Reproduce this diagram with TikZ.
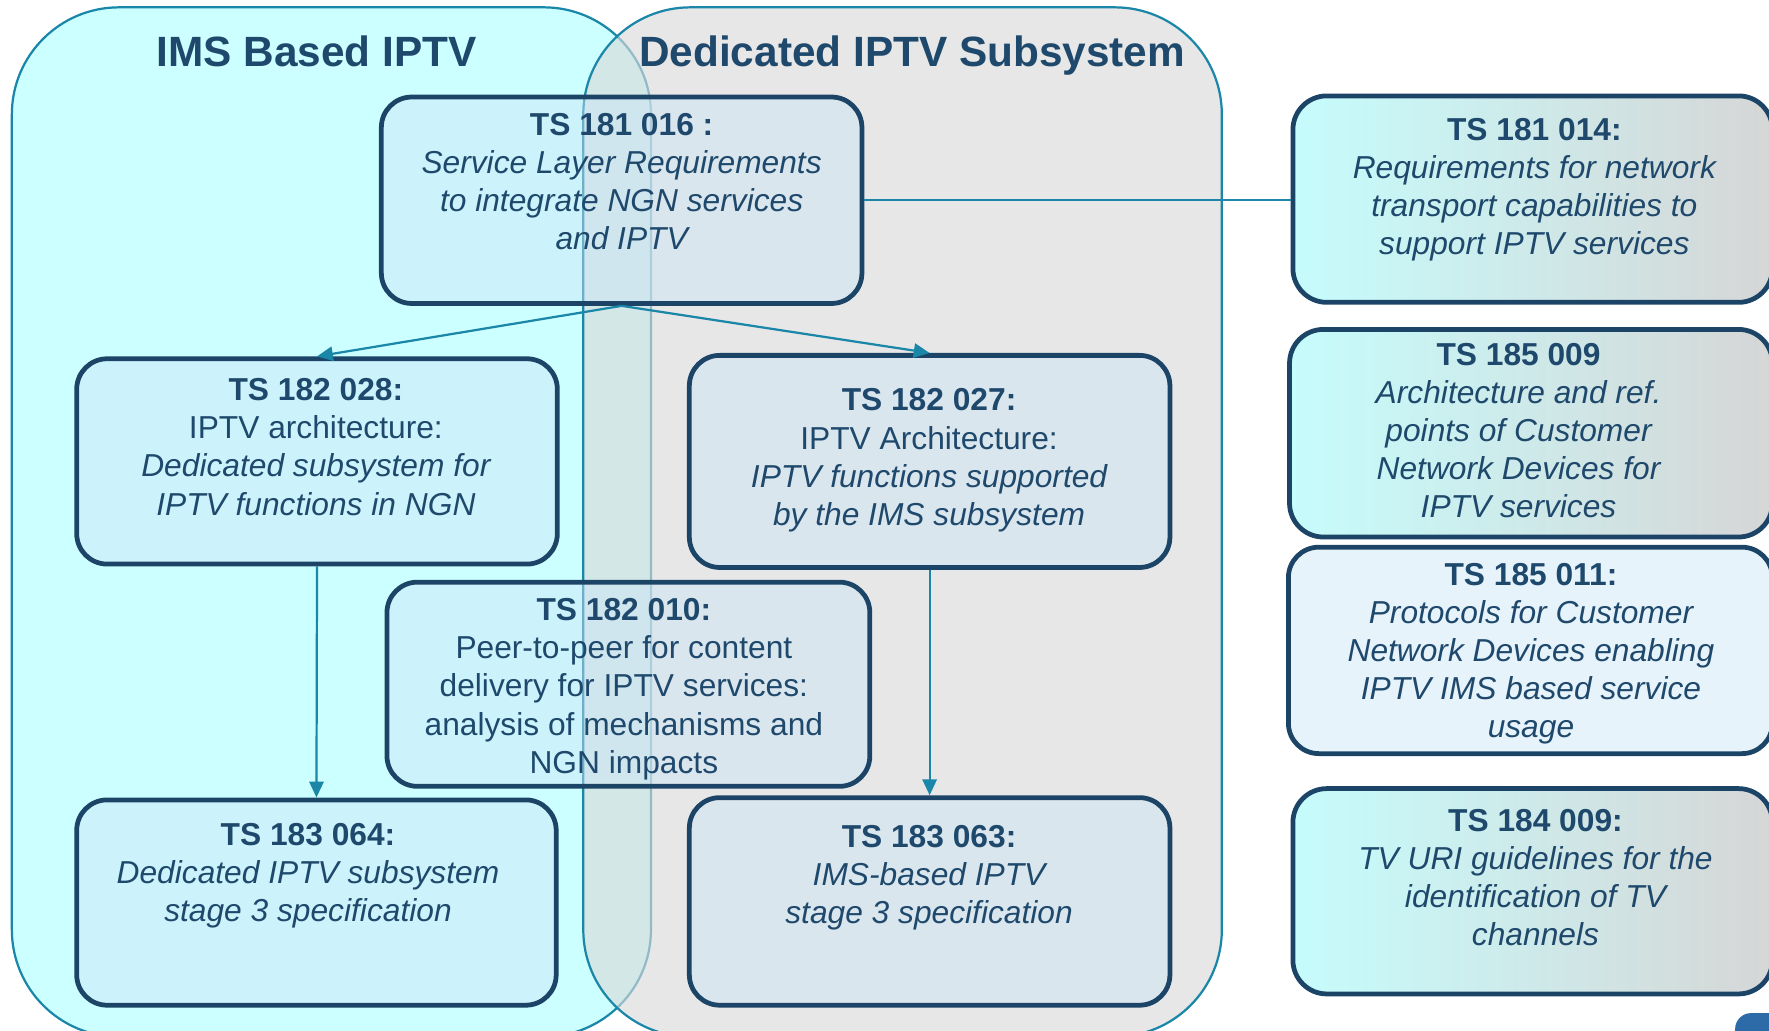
\documentclass[tikz,border=0pt]{standalone}
\usepackage{fontspec}
\setmainfont{Liberation Sans}
\usetikzlibrary{arrows.meta,calc}

% palette
\definecolor{navytext}{RGB}{31,73,108}
\definecolor{boxline}{RGB}{28,68,102}
\definecolor{boxfill}{RGB}{204,229,248}
\definecolor{tealline}{RGB}{26,134,168}
\definecolor{imscyan}{RGB}{204,255,255}
\definecolor{dedgray}{RGB}{218,218,218}
\definecolor{gradA}{RGB}{198,252,252}
\definecolor{gradB}{RGB}{166,218,218}
\definecolor{gradC}{RGB}{214,214,214}
\definecolor{badgeblue}{RGB}{44,106,168}

\tikzset{
  panel/.style={draw=tealline, line width=1.4pt, rounded corners=23.75mm, inner sep=0pt},
  paneltitle/.style={text=navytext, inner sep=0pt, anchor=base,
    font=\fontsize{26.7}{32}\selectfont\bfseries},
  specbox/.style={draw=boxline, line width=3pt, rounded corners=6.75mm,
    fill=boxfill, fill opacity=0.46, draw opacity=1, inner sep=0pt},
  shadedbox/.style={draw=boxline, line width=3pt, rounded corners=7.5mm,
    left color=gradA, middle color=gradB, right color=gradC, inner sep=0pt},
  spectext/.style={text=navytext, align=center, inner sep=0pt, anchor=north,
    font=\fontsize{20}{24}\selectfont},
  link/.style={draw=tealline, line width=1.4pt, -{Triangle[length=10pt,width=9pt]}},
  plainlink/.style={draw=tealline, line width=1.4pt},
}

% box from corner (x1,y1) to corner (x2,y2)
\newcommand{\tsbox}[6]{%
  \node[#2, minimum width={(#5-#3)*0.25mm}, minimum height={(#6-#4)*0.25mm}]
    (#1) at ({(#3+#5)/2},{(#4+#6)/2}) {};}
% text block: name, centre x, first baseline, lines
\newcommand{\tstext}[4]{%
  \node[spectext] (#1) at ({#2},{#3-22.5}) {\rule{0pt}{16pt}#4};}

\begin{document}
\begin{tikzpicture}[x=0.25mm, y=-0.25mm]
\useasboundingbox (0,0) rectangle (1568,913);
\fill[white] (0,0) rectangle (1568,913);

% the two subsystem panels
\node[panel, fill=imscyan, minimum width={566.5*0.25mm}, minimum height={912.5*0.25mm}]
  (ims) at (293.75,462.75) {};
\node[panel, fill=dedgray, fill opacity=0.63, draw opacity=1,
  minimum width={566*0.25mm}, minimum height={912.5*0.25mm}]
  (ded) at (800,462.75) {};

\node[paneltitle] (imstitle) at (280.5,59) {IMS Based IPTV};
\node[paneltitle] (dedtitle) at (808.5,59) {Dedicated IPTV Subsystem};

% specification boxes
\tsbox{b1}{specbox}{338}{86}{764}{269}
\tsbox{b2}{specbox}{68}{318}{494}{500}
\tsbox{b3}{specbox}{611}{315}{1037}{503}
\tsbox{b4}{specbox}{343}{516}{771}{697}
\tsbox{b5}{specbox}{68}{709}{493}{891}
\tsbox{b6}{specbox}{611}{707}{1037}{891}

\tsbox{b7}{shadedbox}{1146}{85}{1571}{268}
\tsbox{b8}{shadedbox}{1143}{292}{1571}{476}
\tsbox{b9}{specbox}{1142}{485}{1571}{668}
\tsbox{b10}{shadedbox}{1146}{699}{1571}{881}

\tstext{t1}{551}{120}{\textbf{TS 181 016 :}\\ \itshape Service Layer Requirements\\ \itshape to integrate NGN services\\ \itshape and IPTV}
\tstext{t2}{280}{355}{\textbf{TS 182 028:}\\ IPTV architecture:\\ \itshape Dedicated subsystem for\\ \itshape IPTV functions in NGN}
\tstext{t3}{823.5}{364}{\textbf{TS 182 027:}\\ IPTV Architecture:\\ \itshape IPTV functions supported\\ \itshape by the IMS subsystem}
\tstext{t4}{553}{550}{\textbf{TS 182 010:}\\ Peer-to-peer for content\\ delivery for IPTV services:\\ analysis of mechanisms and\\ NGN impacts}
\tstext{t5}{273}{749}{\textbf{TS 183 064:}\\ \itshape Dedicated IPTV subsystem\\ \itshape stage 3 specification}
\tstext{t6}{823.5}{751}{\textbf{TS 183 063:}\\ \itshape IMS-based IPTV\\ \itshape stage 3 specification}

\tstext{t7}{1360}{124}{\textbf{TS 181 014:}\\ \itshape Requirements for network\\ \itshape transport capabilities to\\ \itshape support IPTV services}
\tstext{t8}{1346}{323.5}{\textbf{TS 185 009}\\ \itshape Architecture and ref.\\ \itshape points of Customer\\ \itshape Network Devices for\\ \itshape IPTV services}
\tstext{t9}{1357}{518.5}{\textbf{TS 185 011:}\\ \itshape Protocols for Customer\\ \itshape Network Devices enabling\\ \itshape IPTV IMS based service\\ \itshape usage}
\tstext{t10}{1361}{737}{\textbf{TS 184 009:}\\ \itshape TV URI guidelines for the\\ \itshape identification of TV\\ \itshape channels}

% connectors
\draw[link] (b1.south) -- (b2.north);
\draw[link] (b1.south) -- (b3.north);
\draw[link] (b2.south) -- (b5.north);
\draw[link] (b3.south) -- (b6.north);
\draw[plainlink] (b1.east) -- (b1.east -| b7.west);

% page badge in the corner
\fill[badgeblue, rounded corners=3.5mm] (1538,898) rectangle (1600,960);
\end{tikzpicture}
\end{document}
